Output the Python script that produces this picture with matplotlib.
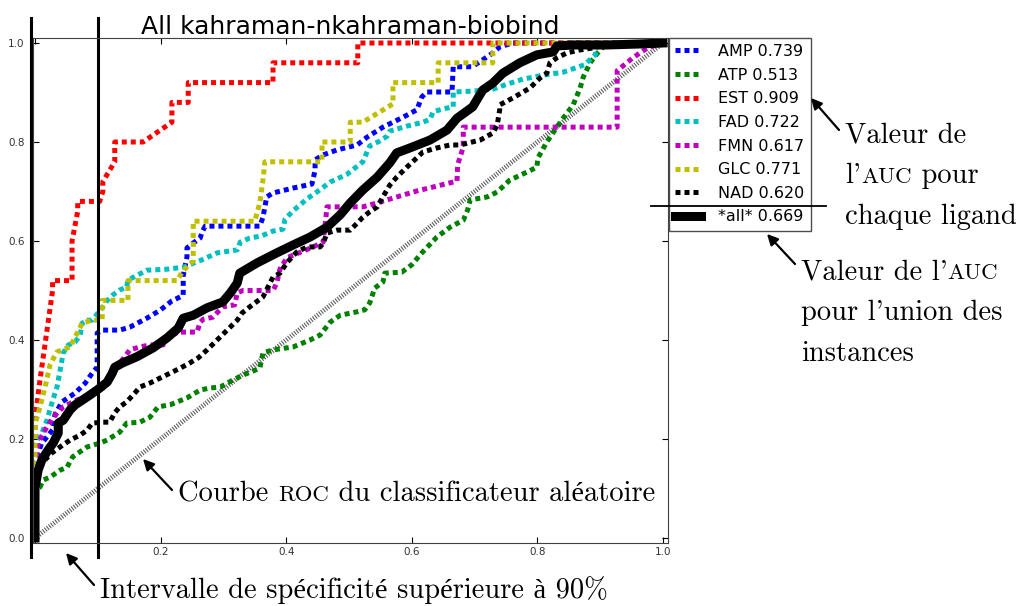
import matplotlib
matplotlib.use('Agg')
import matplotlib.pyplot as plt
from matplotlib.lines import Line2D
from matplotlib.patches import FancyArrowPatch
from matplotlib.offsetbox import TextArea, HPacker, VPacker, AnnotationBbox

# ROC curves (false positive rate, true positive rate)
amp_x = [0, 0, 0.010, 0.029, 0.032, 0.043, 0.064, 0.080, 0.091, 0.099, 0.099, 0.107, 0.135, 0.151,
         0.178, 0.199, 0.218, 0.236, 0.236, 0.242, 0.242, 0.252, 0.263, 0.266, 0.271, 0.358, 0.363,
         0.369, 0.379, 0.411, 0.441, 0.446, 0.446, 0.459, 0.481, 0.513, 0.529, 0.554, 0.586, 0.608,
         0.616, 0.624, 0.664, 0.666, 0.696, 0.713, 0.729, 0.740, 0.760, 1.0]
amp_y = [0, 0.15, 0.19, 0.22, 0.25, 0.275, 0.293, 0.313, 0.333, 0.345, 0.414, 0.42, 0.42, 0.426,
         0.444, 0.46, 0.479, 0.49, 0.53, 0.568, 0.586, 0.596, 0.606, 0.618, 0.63, 0.63, 0.648,
         0.689, 0.697, 0.707, 0.715, 0.743, 0.764, 0.774, 0.784, 0.794, 0.81, 0.83, 0.85, 0.865,
         0.891, 0.901, 0.901, 0.952, 0.952, 0.966, 0.98, 0.992, 1.0, 1.0]

atp_x = [0, 0, 0.008, 0.013, 0.024, 0.040, 0.051, 0.060, 0.083, 0.104, 0.115, 0.135, 0.146, 0.167,
         0.183, 0.196, 0.215, 0.242, 0.263, 0.279, 0.295, 0.315, 0.331, 0.358, 0.363, 0.379, 0.411,
         0.438, 0.454, 0.470, 0.486, 0.513, 0.525, 0.533, 0.541, 0.554, 0.557, 0.584, 0.600, 0.616,
         0.640, 0.661, 0.682, 0.689, 0.693, 0.720, 0.736, 0.756, 0.783, 0.799, 0.801, 0.815, 0.831,
         0.841, 0.857, 0.868, 0.873, 0.884, 0.896, 0.908, 1.0]
atp_y = [0, 0.10, 0.103, 0.117, 0.123, 0.137, 0.143, 0.164, 0.184, 0.192, 0.198, 0.214, 0.232, 0.234,
         0.244, 0.265, 0.269, 0.283, 0.299, 0.303, 0.305, 0.319, 0.329, 0.343, 0.374, 0.38, 0.386,
         0.40, 0.41, 0.436, 0.45, 0.457, 0.461, 0.475, 0.505, 0.517, 0.535, 0.537, 0.552, 0.576,
         0.608, 0.628, 0.642, 0.663, 0.683, 0.689, 0.699, 0.723, 0.739, 0.749, 0.768, 0.80, 0.83,
         0.848, 0.875, 0.909, 0.931, 0.96, 0.98, 0.996, 1.0]

est_x = [0, 0, 0.008, 0.028, 0.028, 0.059, 0.059, 0.068, 0.068, 0.103, 0.108, 0.108, 0.127, 0.127,
         0.172, 0.218, 0.218, 0.244, 0.244, 0.379, 0.379, 0.514, 0.514, 1.0]
est_y = [0, 0.24, 0.32, 0.50, 0.52, 0.52, 0.60, 0.66, 0.68, 0.68, 0.70, 0.72, 0.76, 0.80,
         0.80, 0.84, 0.88, 0.88, 0.92, 0.92, 0.96, 0.96, 1.0, 1.0]

fad_x = [0, 0, 0.011, 0.019, 0.027, 0.035, 0.040, 0.045, 0.053, 0.064, 0.072, 0.075, 0.084, 0.091,
         0.108, 0.115, 0.124, 0.135, 0.146, 0.148, 0.178, 0.210, 0.236, 0.252, 0.266, 0.290, 0.322,
         0.327, 0.342, 0.360, 0.379, 0.395, 0.398, 0.411, 0.433, 0.451, 0.470, 0.497, 0.522, 0.533,
         0.549, 0.561, 0.565, 0.592, 0.618, 0.629, 0.634, 0.650, 0.666, 0.666, 0.700, 0.730, 0.752,
         0.777, 0.809, 0.841, 0.866, 0.875, 0.892, 0.895, 0.910, 1.0]
fad_y = [0, 0.19, 0.212, 0.238, 0.273, 0.305, 0.339, 0.374, 0.390, 0.396, 0.410, 0.434, 0.44, 0.44,
         0.467, 0.48, 0.491, 0.501, 0.507, 0.521, 0.541, 0.543, 0.547, 0.555, 0.562, 0.576, 0.582,
         0.598, 0.606, 0.610, 0.620, 0.624, 0.644, 0.661, 0.685, 0.701, 0.719, 0.735, 0.760, 0.792,
         0.802, 0.812, 0.822, 0.832, 0.840, 0.846, 0.861, 0.867, 0.871, 0.901, 0.903, 0.907, 0.917,
         0.927, 0.935, 0.941, 0.952, 0.956, 0.976, 0.992, 0.996, 1.0]

fmn_x = [0, 0, 0.003, 0.005, 0.016, 0.029, 0.045, 0.067, 0.083, 0.096, 0.111, 0.119, 0.130, 0.151,
         0.167, 0.183, 0.204, 0.210, 0.228, 0.258, 0.263, 0.268, 0.283, 0.299, 0.318, 0.322, 0.331,
         0.379, 0.385, 0.390, 0.401, 0.443, 0.459, 0.465, 0.522, 0.545, 0.576, 0.608, 0.640, 0.672,
         0.673, 0.682, 0.682, 0.927, 0.927, 0.952, 0.975, 1.0]
fmn_y = [0, 0.15, 0.172, 0.192, 0.218, 0.244, 0.265, 0.279, 0.285, 0.293, 0.305, 0.319, 0.345, 0.38,
         0.386, 0.39, 0.39, 0.404, 0.416, 0.416, 0.436, 0.442, 0.446, 0.467, 0.471, 0.495, 0.50,
         0.50, 0.515, 0.543, 0.566, 0.588, 0.598, 0.669, 0.669, 0.677, 0.689, 0.701, 0.711, 0.721,
         0.754, 0.79, 0.83, 0.83, 0.944, 0.97, 0.99, 1.0]

glc_x = [0, 0, 0, 0.008, 0.016, 0.024, 0.035, 0.056, 0.075, 0.091, 0.107, 0.107, 0.148, 0.148,
         0.226, 0.236, 0.252, 0.252, 0.350, 0.358, 0.363, 0.366, 0.457, 0.457, 0.502, 0.502, 0.522,
         0.570, 0.570, 0.642, 0.642, 0.729, 0.729, 1.0]
glc_y = [0, 0.16, 0.23, 0.265, 0.305, 0.35, 0.376, 0.386, 0.434, 0.44, 0.44, 0.48, 0.48, 0.52,
         0.52, 0.54, 0.56, 0.64, 0.64, 0.677, 0.723, 0.76, 0.76, 0.80, 0.80, 0.84, 0.84,
         0.877, 0.92, 0.92, 0.96, 0.96, 1.0, 1.0]

nad_x = [0, 0, 0.008, 0.016, 0.027, 0.040, 0.056, 0.072, 0.083, 0.091, 0.107, 0.119, 0.127, 0.135,
         0.146, 0.159, 0.167, 0.183, 0.199, 0.215, 0.231, 0.247, 0.260, 0.274, 0.290, 0.306, 0.322,
         0.330, 0.342, 0.363, 0.379, 0.390, 0.401, 0.417, 0.433, 0.454, 0.459, 0.465, 0.481, 0.502,
         0.513, 0.522, 0.533, 0.545, 0.553, 0.565, 0.576, 0.592, 0.608, 0.618, 0.640, 0.661, 0.677,
         0.709, 0.729, 0.736, 0.740, 0.740, 0.761, 0.788, 0.804, 0.815, 0.820, 0.831, 0.847, 0.868,
         0.889, 0.911, 1.0]
nad_y = [0, 0.13, 0.143, 0.158, 0.172, 0.184, 0.198, 0.208, 0.218, 0.232, 0.234, 0.234, 0.253, 0.265,
         0.275, 0.293, 0.305, 0.313, 0.323, 0.333, 0.343, 0.354, 0.364, 0.38, 0.40, 0.42, 0.44,
         0.455, 0.467, 0.487, 0.527, 0.535, 0.556, 0.578, 0.588, 0.588, 0.596, 0.616, 0.622, 0.622,
         0.636, 0.648, 0.659, 0.669, 0.687, 0.713, 0.729, 0.749, 0.768, 0.78, 0.788, 0.794, 0.794,
         0.804, 0.818, 0.834, 0.865, 0.875, 0.889, 0.909, 0.929, 0.939, 0.96, 0.97, 0.98, 0.986,
         0.99, 0.998, 1.0]

all_x = [0, 0, 0.005, 0.011, 0.021, 0.029, 0.037, 0.037, 0.045, 0.056, 0.064, 0.083, 0.099, 0.115,
         0.123, 0.127, 0.140, 0.162, 0.188, 0.210, 0.228, 0.236, 0.252, 0.274, 0.299, 0.311, 0.322,
         0.326, 0.354, 0.385, 0.411, 0.438, 0.465, 0.486, 0.502, 0.522, 0.545, 0.565, 0.576, 0.597,
         0.629, 0.656, 0.672, 0.697, 0.713, 0.729, 0.745, 0.772, 0.799, 0.825, 0.831, 0.857, 0.911,
         0.963, 1.0]
all_y = [0, 0.101, 0.137, 0.158, 0.178, 0.192, 0.212, 0.232, 0.238, 0.259, 0.269, 0.285, 0.299, 0.315,
         0.333, 0.345, 0.354, 0.366, 0.384, 0.404, 0.424, 0.444, 0.45, 0.465, 0.477, 0.495, 0.515,
         0.535, 0.556, 0.576, 0.592, 0.608, 0.628, 0.653, 0.677, 0.703, 0.729, 0.758, 0.778, 0.788,
         0.804, 0.824, 0.848, 0.871, 0.905, 0.919, 0.939, 0.96, 0.976, 0.982, 0.994, 0.996, 0.996,
         0.998, 1.0]

ligands = ['AMP', 'ATP', 'EST', 'FAD', 'FMN', 'GLC', 'NAD']
aucs = ['0.739', '0.513', '0.909', '0.722', '0.617', '0.771', '0.620']
colors = ['b', 'g', 'r', 'c', 'm', 'y', 'k']
curves_x = [amp_x, atp_x, est_x, fad_x, fmn_x, glc_x, nad_x]
curves_y = [amp_y, atp_y, est_y, fad_y, fmn_y, glc_y, nad_y]
all_auc = '0.669'

xticks = [0.0, 0.2, 0.4, 0.6, 0.8, 1.0]
xticklabels = ['', '0.2', '0.4', '0.6', '0.8', '1.0']
yticks = [0.0, 0.2, 0.4, 0.6, 0.8, 1.0]
yticklabels = ['0.0', '0.2', '0.4', '0.6', '0.8', '1.0']

W, H = 1018, 606
SERIF = ['cmr10', 'Liberation Serif']


def fig_px(x, y):
    # image pixel (from top-left) -> figure fraction
    return (x / W, 1 - y / H)


def rich_text(lines, size, sep):
    # lines of (text, small caps?) pieces, small caps faked with smaller capitals
    rows = []
    for pieces in lines:
        areas = [TextArea(t, textprops=dict(family=SERIF, fontsize=size * (0.8 if sc else 1.0)))
                 for t, sc in pieces]
        rows.append(HPacker(children=areas, align='baseline', pad=0, sep=0))
    return VPacker(children=rows, align='left', pad=0, sep=sep)


def place(box, x, y):
    ab = AnnotationBbox(box, fig_px(x, y), xycoords='figure fraction',
                        box_alignment=(0, 1), frameon=False, pad=0, annotation_clip=False)
    fig.add_artist(ab)


def arrow(head, tail):
    fig.add_artist(FancyArrowPatch(
        fig_px(*tail), fig_px(*head), transform=fig.transFigure,
        arrowstyle='-|>', mutation_scale=16, lw=1.6, color='k', shrinkA=0, shrinkB=0))


fig = plt.figure(figsize=(W / 100, H / 100), dpi=100)
ax = fig.add_axes([33 / W, 1 - 543 / H, (668 - 33) / W, (543 - 38) / H])

# random classifier
ax.plot([0, 1], [0, 1], color='0.35', lw=3.5, dashes=(0.22, 0.32))

for name, auc, xs, ys, col in zip(ligands, aucs, curves_x, curves_y, colors):
    ax.plot(xs, ys, color=col, lw=3.6, dashes=(1, 0.8), label=f'{name} {auc}')
ax.plot(all_x, all_y, color='k', lw=6.5, solid_joinstyle='round', label=f'*all* {all_auc}')

ax.set_xlim(-0.0032, 1.008)
ax.set_ylim(-0.0101, 1.0101)
ax.set_xticks(xticks, labels=xticklabels)
ax.set_yticks(yticks, labels=yticklabels)
ax.tick_params(direction='in', top=True, right=True, length=4, labelsize=7.5,
               labelcolor='0.2')
ax.tick_params(axis='x', pad=3)
ax.tick_params(axis='y', pad=6)
for sp in ax.spines.values():
    sp.set_color('0.25')

ax.set_title('All kahraman-nkahraman-biobind', fontsize=18, pad=3)

leg = ax.legend(loc='upper left', bbox_to_anchor=fig_px(669, 38), bbox_transform=fig.transFigure,
                borderaxespad=0, fontsize=11.5, handlelength=1.6, handletextpad=1.1,
                labelspacing=0.54, borderpad=0.38, fancybox=False, edgecolor='0.3', framealpha=1)
leg.get_frame().set_linewidth(1.0)

# specificity interval markers
ax.plot([-0.007, -0.007], [-0.038, 1.05], color='k', lw=2.2, clip_on=False)
ax.plot([0.1, 0.1], [-0.038, 1.05], color='k', lw=2.2, clip_on=False)

fig.add_artist(Line2D([651 / W, 826 / W], [1 - 206 / H, 1 - 206 / H], color='k', lw=1.3))

# annotations
FS = 20.5
place(rich_text([[('Valeur de', False)],
                 [("l'", False), ('AUC', True), (' pour', False)],
                 [('chaque ligand', False)]], FS, 10.5), 845, 122)
arrow((811, 98), (839, 130))

place(rich_text([[("Valeur de l'", False), ('AUC', True)],
                 [("pour l'union des", False)],
                 [('instances', False)]], FS, 10.5), 801, 259)
arrow((767, 234), (795, 264))

place(rich_text([[('Courbe ', False), ('ROC', True), (' du classificateur aléatoire', False)]], FS, 0),
      178, 481)
arrow((143, 459), (172, 490))

place(rich_text([[('Intervalle de spécificité supérieure à 90%', False)]], FS, 0), 100, 576)
arrow((66, 553), (94, 585))

fig.savefig('out.png', dpi=100)
